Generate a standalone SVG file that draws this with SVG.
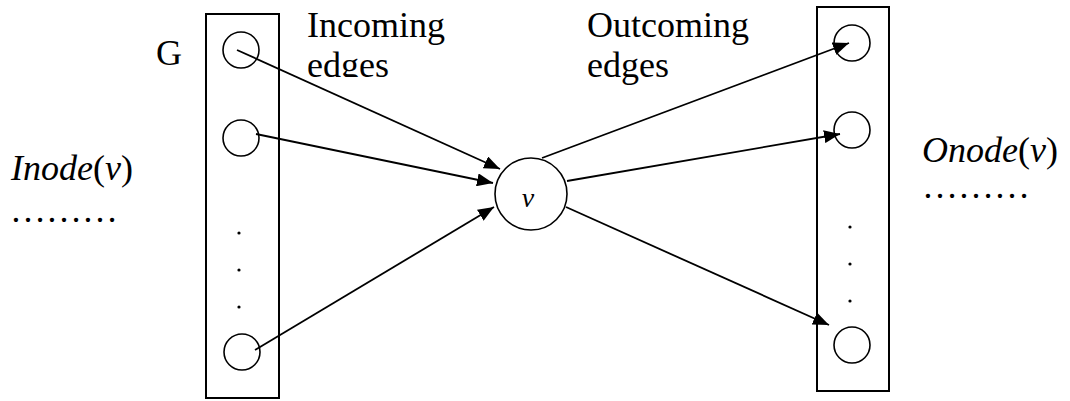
<svg xmlns="http://www.w3.org/2000/svg" width="1070" height="401" viewBox="0 0 1070 401">
<style>
.box{fill:none;stroke:#000;stroke-width:2}
.nd{fill:#fff;stroke:#000;stroke-width:1.6}
.dot{fill:#000}
.edge{stroke:#000;stroke-width:1.8;fill:none}
.t{font-family:"Liberation Serif","Times New Roman",serif;font-size:36px;fill:#000}
.i{font-style:italic}
</style>
<defs>
<marker id="ah" markerUnits="userSpaceOnUse" markerWidth="17" markerHeight="13" refX="16" refY="6.5" orient="auto">
<path d="M0,0 L16,6.5 L0,13 Z" fill="#000"/>
</marker>
<clipPath id="clipEdges"><rect x="300" y="0" width="160" height="77"/></clipPath>
</defs>
<g id="labels">
<text class="t" x="156" y="65">G</text>
<g clip-path="url(#clipEdges)">
<text class="t" x="307" y="37">Incoming</text>
<text class="t" x="307" y="77">edges</text>
</g>
<text class="t" x="587" y="37">Outcoming</text>
<text class="t" x="587" y="77">edges</text>
<text class="t i" x="11" y="180">Inode<tspan font-style="normal">(</tspan>v<tspan font-style="normal">)</tspan></text>
<text class="t" x="10" y="222">………</text>
<text class="t i" x="922" y="162">Onode<tspan font-style="normal">(</tspan>v<tspan font-style="normal">)</tspan></text>
<text class="t" x="922" y="198">………</text>
</g>
<g id="inode-group">
<rect class="box" x="206" y="14" width="73" height="384"/>
<circle class="nd" cx="241" cy="50" r="18"/>
<circle class="nd" cx="241" cy="138" r="18"/>
<circle class="nd" cx="242" cy="352" r="18"/>
<circle class="dot" cx="239" cy="233" r="1.6"/>
<circle class="dot" cx="239" cy="270" r="1.6"/>
<circle class="dot" cx="239" cy="307" r="1.6"/>
</g>
<g id="onode-group">
<rect class="box" x="817" y="7" width="72" height="384"/>
<circle class="nd" cx="852" cy="43" r="18"/>
<circle class="nd" cx="852" cy="130" r="18"/>
<circle class="nd" cx="852" cy="345" r="18"/>
<circle class="dot" cx="850" cy="227" r="1.6"/>
<circle class="dot" cx="850" cy="264" r="1.6"/>
<circle class="dot" cx="850" cy="301" r="1.6"/>
</g>
<g id="node-v">
<circle class="nd" cx="531" cy="194" r="36"/>
<text class="t i" x="528" y="207" font-size="28" text-anchor="middle" style="font-size:28px">v</text>
</g>
<g id="connectors">
<line class="edge" x1="237" y1="50" x2="500" y2="169" marker-end="url(#ah)"/>
<line class="edge" x1="256" y1="134" x2="493" y2="183" marker-end="url(#ah)"/>
<line class="edge" x1="255" y1="350" x2="494" y2="207" marker-end="url(#ah)"/>
<line class="edge" x1="542" y1="158" x2="849" y2="43" marker-end="url(#ah)"/>
<line class="edge" x1="567" y1="181" x2="840" y2="134" marker-end="url(#ah)"/>
<line class="edge" x1="566" y1="207" x2="829" y2="325" marker-end="url(#ah)"/>
</g>
</svg>
